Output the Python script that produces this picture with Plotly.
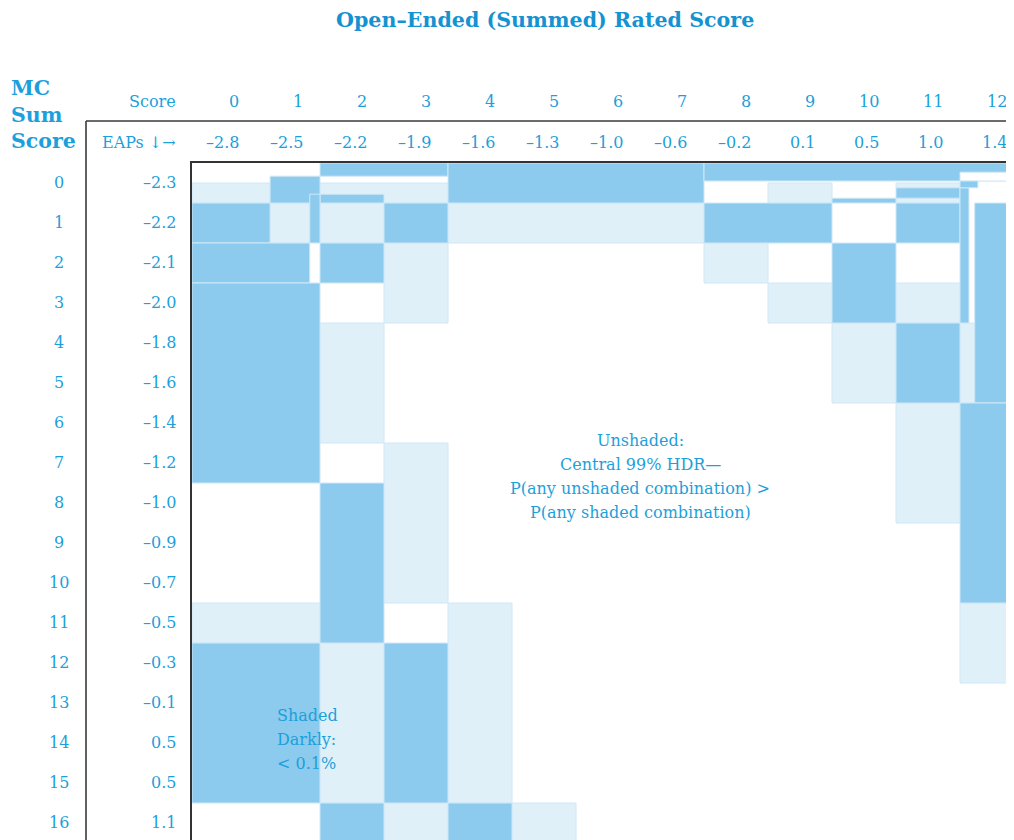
import plotly.graph_objects as go

# colours / fonts
DARK = "#8ccbee"
LIGHT = "#e0f0f9"
EDGE = "#cfe8f7"
TEXT = "#1d9fdb"
TITLE = "#1592d0"
FONT = "DejaVu Serif"

# open-ended (columns) and MC (rows) scores with their EAPs
oe_scores = [str(i) for i in range(13)]
oe_eaps = ["–2.8", "–2.5", "–2.2", "–1.9", "–1.6", "–1.3", "–1.0",
           "–0.6", "–0.2", "0.1", "0.5", "1.0", "1.4"]
mc_scores = [str(i) for i in range(17)]
mc_eaps = ["–2.3", "–2.2", "–2.1", "–2.0", "–1.8", "–1.6", "–1.4", "–1.2",
           "–1.0", "–0.9", "–0.7", "–0.5", "–0.3", "–0.1", "0.5", "0.5", "1.1"]

# shaded blocks as (OE from, OE to, MC from, MC to) in score-cell units
light_blocks = [
    (0, 1.22, 0.5, 1), (2, 4, 0.5, 1), (1.22, 1.84, 1, 2), (2, 3, 1, 2),
    (4, 8, 1, 2), (9, 10, 0.5, 1), (11, 12, 0.5, 0.62), (11, 12, 0.88, 1),
    (3, 4, 2, 4), (8, 9, 2, 3), (9, 10, 3, 4), (11, 12, 3, 4),
    (10, 11, 4, 6), (11, 12, 6, 9), (12, 12.23, 4, 6), (12, 13, 11, 13),
    (2, 3, 4, 7), (3, 4, 7, 11), (0, 2, 11, 12), (2, 3, 12, 16),
    (4, 5, 11, 16), (3, 4, 16, 17), (5, 6, 16, 17),
]
dark_blocks = [
    (2, 4, 0, 0.33), (4, 8, 0, 1), (8, 13, 0, 0.45), (1.22, 2, 0.33, 1),
    (2, 3, 0.78, 1), (1.84, 2, 0.78, 2), (0, 1.22, 1, 2), (0, 1.84, 2, 3),
    (0, 2, 3, 8), (3, 4, 1, 2), (8, 10, 1, 2), (11, 12, 1, 2),
    (2, 3, 2, 3), (10, 11, 2, 4), (11, 12, 4, 6), (10, 11, 0.88, 1),
    (11, 12, 0.62, 0.88), (12, 12.14, 0.62, 4), (12.23, 13, 1, 6),
    (12, 13, 6, 11), (2, 3, 8, 12), (0, 2, 12, 16), (3, 4, 12, 16),
    (2, 3, 16, 17), (4, 5, 16, 17),
]
white_blocks = [(12, 13, 0.23, 0.45)]
dark_tail = [(12, 12.28, 0.45, 0.62)]

unshaded_note = ["Unshaded:", "Central 99% HDR—",
                 "P(any unshaded combination) >", "P(any shaded combination)"]
shaded_note = ["Shaded", "Darkly:", "&lt; 0.1%"]

OFF = 8                      # page body margin
W, H = 1006, 832
ML, MT = 192 - OFF, 163 - OFF
CELL_W, CELL_H = 64, 40
X_SPAN = (W - ML) / CELL_W
Y_SPAN = (H - MT) / CELL_H


def paper_x(px):
    return (px - OFF - ML) / (W - ML)


def paper_y(py):
    return (H - (py - OFF)) / (H - MT)


fig = go.Figure()
fig.add_trace(go.Scatter(x=[0], y=[0], mode="markers", opacity=0,
                         showlegend=False, hoverinfo="skip"))

for blocks, col in [(light_blocks, LIGHT), (dark_blocks, DARK),
                    (white_blocks, "white"), (dark_tail, DARK)]:
    for x0, x1, y0, y1 in blocks:
        fig.add_shape(type="rect", xref="x", yref="y", x0=x0, x1=x1, y0=y0, y1=y1,
                      fillcolor=col, line=dict(color=EDGE, width=1), layer="below")

# frame lines outside the grid
fig.add_shape(type="line", xref="paper", yref="paper",
              x0=paper_x(86), x1=1, y0=paper_y(121), y1=paper_y(121),
              line=dict(color="#3a3a3a", width=1.6))
fig.add_shape(type="line", xref="paper", yref="paper",
              x0=paper_x(86), x1=paper_x(86), y0=paper_y(121), y1=0,
              line=dict(color="#3a3a3a", width=1.6))

lab = dict(family=FONT, size=16, color=TEXT)
for i, (s, e) in enumerate(zip(oe_scores, oe_eaps)):
    fig.add_annotation(x=i + 0.77, xref="x", y=paper_y(102), yref="paper", text=s,
                       showarrow=False, xanchor="right", yanchor="middle", font=lab)
    fig.add_annotation(x=i + 0.77, xref="x", y=paper_y(142), yref="paper", text=e,
                       showarrow=False, xanchor="right", yanchor="middle", font=lab)
for j, (s, e) in enumerate(zip(mc_scores, mc_eaps)):
    fig.add_annotation(x=paper_x(59), xref="paper", y=j + 0.48, yref="y", text=s,
                       showarrow=False, xanchor="center", yanchor="middle", font=lab)
    fig.add_annotation(x=paper_x(178), xref="paper", y=j + 0.48, yref="y", text=e,
                       showarrow=False, xanchor="right", yanchor="middle", font=lab)

fig.add_annotation(x=paper_x(178), xref="paper", y=paper_y(102), yref="paper",
                   text="Score", showarrow=False, xanchor="right", yanchor="middle",
                   font=lab)
fig.add_annotation(x=paper_x(178), xref="paper", y=paper_y(142), yref="paper",
                   text="EAPs ↓→", showarrow=False, xanchor="right", yanchor="middle",
                   font=lab)
fig.add_annotation(x=paper_x(9), xref="paper", y=paper_y(115), yref="paper",
                   text="<b>MC<br>Sum<br>Score</b>", showarrow=False,
                   xanchor="left", yanchor="middle", align="left",
                   font=dict(family=FONT, size=20.5, color=TEXT))
fig.add_annotation(x=paper_x(545), xref="paper", y=paper_y(20), yref="paper",
                   text="<b>Open–Ended (Summed) Rated Score</b>", showarrow=False,
                   xanchor="center", yanchor="middle",
                   font=dict(family=FONT, size=20.6, color=TITLE))

for k, line in enumerate(unshaded_note):
    fig.add_annotation(x=7.0, y=6.93 + 0.6 * k, text=line, showarrow=False,
                       xanchor="center", yanchor="middle",
                       font=dict(family=FONT, size=16, color=TEXT))
for k, line in enumerate(shaded_note):
    fig.add_annotation(x=1.3, y=13.82 + 0.59 * k, text=line, showarrow=False,
                       xanchor="left", yanchor="middle",
                       font=dict(family=FONT, size=16, color=TEXT))

fig.update_layout(
    width=W, height=H,
    margin=dict(l=ML, r=0, t=MT, b=0),
    plot_bgcolor="white", paper_bgcolor="white",
    showlegend=False,
    xaxis=dict(range=[0, X_SPAN], side="top", showgrid=False, zeroline=False,
               showticklabels=False, ticks="", showline=True,
               linecolor="#333333", linewidth=2, fixedrange=True),
    yaxis=dict(range=[Y_SPAN, 0], showgrid=False, zeroline=False,
               showticklabels=False, ticks="", showline=True,
               linecolor="#333333", linewidth=2, fixedrange=True),
)

fig.write_html("out.html")
